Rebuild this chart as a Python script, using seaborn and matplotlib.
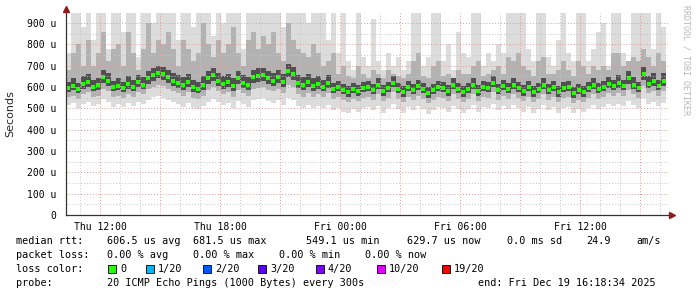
import numpy as np
import matplotlib
matplotlib.use("Agg")
import matplotlib.pyplot as plt
import seaborn as sns
from matplotlib.patches import Rectangle

# ---------------- data (values in microseconds, 15-minute steps) ----------------
start_hour = 10.3      # Thu 10:18
step_hours = 0.25

median = [595, 605, 590, 615, 625, 600, 610, 645, 630, 600,
          605, 595, 615, 600, 625, 610, 640, 655, 665, 660,
          645, 630, 620, 610, 625, 600, 590, 610, 640, 655,
          630, 615, 625, 605, 640, 620, 610, 645, 650, 655,
          640, 630, 645, 625, 675, 660, 620, 610, 625, 605,
          615, 600, 620, 590, 600, 585, 575, 590, 580, 595,
          600, 585, 610, 580, 595, 620, 590, 575, 600, 585,
          605, 590, 570, 585, 600, 595, 580, 610, 590, 575,
          590, 610, 580, 600, 595, 620, 585, 605, 590, 610,
          595, 580, 600, 575, 590, 610, 585, 600, 575, 595,
          600, 570, 585, 575, 595, 610, 590, 600, 615, 605,
          620, 605, 640, 610, 595, 660, 615, 630, 605, 630]

ping_max = [760, 960, 960, 880, 960, 820, 960, 960, 780, 960,
            960, 860, 960, 960, 740, 960, 960, 900, 960, 960,
            960, 960, 820, 960, 960, 880, 960, 960, 960, 840,
            960, 900, 960, 960, 960, 780, 960, 960, 960, 960,
            960, 960, 960, 880, 960, 960, 960, 960, 900, 960,
            960, 960, 820, 960, 760, 960, 720, 680, 960, 740,
            700, 920, 720, 680, 760, 700, 740, 680, 720, 960,
            960, 700, 740, 960, 960, 720, 800, 680, 860, 760,
            740, 960, 960, 700, 760, 720, 800, 760, 960, 960,
            960, 960, 780, 720, 960, 960, 740, 700, 820, 960,
            760, 720, 960, 960, 720, 780, 860, 900, 700, 960,
            960, 760, 720, 960, 960, 960, 960, 780, 960, 880]

ping_p90 = [680, 760, 800, 700, 820, 700, 760, 860, 720, 780,
            800, 700, 860, 760, 680, 780, 900, 760, 820, 800,
            860, 780, 700, 820, 780, 720, 760, 900, 800, 740,
            820, 760, 800, 880, 760, 700, 820, 860, 780, 840,
            800, 860, 760, 720, 900, 820, 780, 760, 740, 800,
            760, 700, 720, 760, 660, 700, 650, 640, 700, 660,
            640, 680, 660, 640, 680, 660, 650, 640, 660, 720,
            760, 650, 640, 700, 720, 650, 660, 640, 680, 660,
            660, 700, 720, 650, 660, 680, 700, 660, 740, 720,
            760, 700, 680, 650, 720, 740, 660, 660, 680, 720,
            680, 650, 720, 700, 660, 700, 680, 700, 680, 760,
            760, 700, 720, 740, 720, 780, 740, 700, 760, 720]

ping_q3 = [625, 640, 620, 650, 660, 635, 640, 680, 665, 630,
           640, 625, 650, 635, 655, 645, 675, 690, 700, 695,
           680, 665, 655, 645, 660, 635, 625, 650, 675, 690,
           665, 650, 660, 640, 675, 655, 645, 680, 690, 690,
           675, 665, 680, 660, 710, 695, 655, 645, 660, 640,
           650, 635, 655, 620, 630, 615, 605, 620, 610, 625,
           630, 615, 640, 610, 625, 650, 620, 605, 630, 615,
           635, 620, 600, 615, 630, 625, 610, 640, 620, 605,
           620, 640, 610, 630, 625, 650, 615, 635, 620, 640,
           625, 610, 630, 605, 620, 640, 615, 630, 605, 625,
           630, 600, 615, 605, 625, 640, 620, 630, 645, 635,
           655, 635, 675, 645, 625, 695, 650, 665, 635, 665]

ping_q1 = [575, 585, 570, 590, 600, 580, 585, 620, 605, 580,
           585, 575, 590, 580, 600, 590, 615, 630, 640, 635,
           620, 605, 595, 585, 600, 575, 570, 585, 615, 630,
           605, 590, 600, 580, 615, 595, 585, 620, 625, 630,
           615, 605, 620, 600, 645, 635, 595, 585, 600, 580,
           590, 580, 595, 570, 580, 565, 555, 570, 560, 575,
           580, 565, 590, 560, 575, 600, 570, 555, 580, 565,
           585, 570, 550, 565, 580, 575, 560, 590, 570, 555,
           570, 590, 560, 580, 575, 600, 565, 585, 570, 590,
           575, 560, 580, 555, 570, 590, 565, 580, 555, 575,
           580, 550, 565, 555, 575, 590, 570, 580, 595, 585,
           595, 585, 615, 590, 575, 635, 595, 605, 585, 605]

ping_p10 = [555, 560, 545, 565, 575, 555, 560, 590, 580, 555,
            560, 550, 565, 555, 575, 565, 590, 600, 610, 605,
            590, 580, 570, 560, 575, 550, 545, 560, 585, 600,
            580, 565, 575, 555, 585, 570, 560, 590, 595, 600,
            585, 580, 590, 570, 610, 600, 565, 555, 570, 555,
            565, 555, 570, 545, 555, 540, 530, 545, 535, 550,
            555, 540, 565, 535, 550, 575, 545, 530, 555, 540,
            560, 545, 525, 540, 555, 550, 535, 565, 545, 530,
            545, 565, 535, 555, 550, 575, 540, 560, 545, 565,
            550, 535, 555, 530, 545, 565, 540, 555, 530, 550,
            555, 525, 540, 530, 550, 565, 545, 555, 570, 560,
            570, 560, 585, 565, 550, 605, 570, 580, 560, 580]

ping_min = [515, 525, 500, 520, 530, 510, 520, 545, 530, 505,
            520, 505, 525, 510, 530, 520, 540, 555, 560, 550,
            540, 530, 520, 505, 525, 500, 495, 510, 530, 545,
            530, 515, 525, 500, 535, 520, 505, 540, 545, 550,
            535, 525, 540, 515, 550, 540, 510, 500, 515, 500,
            510, 500, 515, 490, 500, 485, 480, 495, 485, 500,
            505, 490, 510, 480, 500, 520, 495, 480, 505, 490,
            510, 495, 475, 490, 505, 500, 485, 510, 495, 480,
            495, 515, 485, 505, 500, 520, 490, 510, 495, 515,
            500, 485, 505, 480, 495, 515, 490, 505, 480, 500,
            505, 480, 495, 485, 500, 515, 495, 505, 520, 510,
            520, 510, 535, 515, 500, 550, 520, 530, 510, 525]

y_ticks = [0, 100, 200, 300, 400, 500, 600, 700, 800, 900]
y_labels = ["0", "100 u", "200 u", "300 u", "400 u", "500 u",
            "600 u", "700 u", "800 u", "900 u"]
x_ticks = [12, 18, 24, 30, 36]
x_labels = ["Thu 12:00", "Thu 18:00", "Fri 00:00", "Fri 06:00", "Fri 12:00"]

loss_labels = ["0", "1/20", "2/20", "3/20", "4/20", "10/20", "19/20"]
loss_colors = ["#26ff00", "#00b8ff", "#0059ff", "#5e00ff", "#7e00ff", "#dd00ff", "#ff0000"]

# ---------------- figure ----------------
sns.set_theme(style="white")
plt.rcParams["font.family"] = ["DejaVu Sans Mono"]

W, H = 697, 297
fig = plt.figure(figsize=(W / 100, H / 100), dpi=100)
fig.patch.set_facecolor("white")
ax = fig.add_axes([66 / W, 82 / H, 602 / W, 202 / H])
ax.set_facecolor("white")

n = len(median)
edges = start_hour + step_hours * np.arange(n + 1)
def ext(a):
    a = np.asarray(a, dtype=float)
    return np.append(a, a[-1])

ax.fill_between(edges, ext(ping_min), ext(ping_max), step="post", color="#dcdcdc", lw=0, zorder=1)
ax.fill_between(edges, ext(ping_p10), ext(ping_p90), step="post", color="#b2b2b2", lw=0, zorder=2)
ax.fill_between(edges, ext(ping_q1), ext(ping_q3), step="post", color="#505050", lw=0, zorder=3)

centers = start_hour + step_hours * (np.arange(n) + 0.5)
sns.scatterplot(x=centers, y=median, marker="s", s=5, color=loss_colors[0],
                linewidth=0, ax=ax, zorder=5, legend=False)

xmin, xmax = 10.3, 40.4
ymin, ymax = 0, 947
ax.set_xlim(xmin, xmax)
ax.set_ylim(ymin, ymax)

# grid (drawn over the smoke, like rrdtool)
red = "#d99a9a"
gray = "#c4c4c4"
dots = (0, (1, 2))
for v in range(50, 950, 50):
    c = red if v % 100 == 0 else gray
    ax.axhline(v, color=c, lw=0.7, ls=dots, zorder=6)
for h in range(11, 41):
    c = red if h % 3 == 0 else gray
    ax.axvline(h, color=c, lw=0.7, ls=dots, zorder=6)

ax.set_yticks(y_ticks, y_labels)
ax.set_xticks(x_ticks, x_labels)
ax.tick_params(axis="both", labelsize=7, colors="#000000", length=2, width=0.6)
ax.tick_params(axis="y", pad=5)
ax.tick_params(axis="x", pad=3)
for s in ["top", "right"]:
    ax.spines[s].set_visible(False)
for s in ["left", "bottom"]:
    ax.spines[s].set_color("#333333")
    ax.spines[s].set_linewidth(0.9)
    ax.spines[s].set_zorder(7)

# axis arrows
ax.plot([0], [1.02], marker="^", ms=4, color="#8b1a1a", transform=ax.transAxes, clip_on=False, zorder=8)
ax.plot([1.006], [0], marker=">", ms=4, color="#8b1a1a", transform=ax.transAxes, clip_on=False, zorder=8)

# axis label and watermark
fig.text(10 / W, 1 - 114 / H, "Seconds", rotation=90, ha="center", va="center",
         fontsize=8, family=["DejaVu Sans"])
fig.text(686 / W, 1 - 5 / H, "RRDTOOL / TOBI OETIKER", rotation=-90, ha="center", va="top",
         fontsize=6, color="#b8b8b8")

# legend / statistics lines
fs = 7.3
def put(x, y, s):
    fig.text(x / W, 1 - y / H, s, ha="left", va="center", fontsize=fs, color="#000000")

y1, y2, y3, y4 = 241, 255, 269, 283
put(16, y1, "median rtt:")
put(107, y1, "606.5 us avg")
put(193, y1, "681.5 us max")
put(306, y1, "549.1 us min")
put(407, y1, "629.7 us now")
put(507, y1, "0.0 ms sd")
put(586, y1, "24.9")
put(636, y1, "am/s")

put(16, y2, "packet loss:")
put(107, y2, "0.00 % avg")
put(193, y2, "0.00 % max")
put(279, y2, "0.00 % min")
put(365, y2, "0.00 % now")

put(16, y3, "loss color:")
sq_x = [108, 146, 203, 258, 316, 377, 442]
for x, lab, col in zip(sq_x, loss_labels, loss_colors):
    fig.patches.append(Rectangle((x / W, 1 - 273 / H), 8 / W, 8 / H, transform=fig.transFigure,
                                 facecolor=col, edgecolor="#000000", lw=0.6, figure=fig))
    put(x + 12, y3, lab)

put(16, y4, "probe:")
put(107, y4, "20 ICMP Echo Pings (1000 Bytes) every 300s")
put(478, y4, "end: Fri Dec 19 16:18:34 2025")

fig.savefig("out.png", dpi=100, facecolor="white")
